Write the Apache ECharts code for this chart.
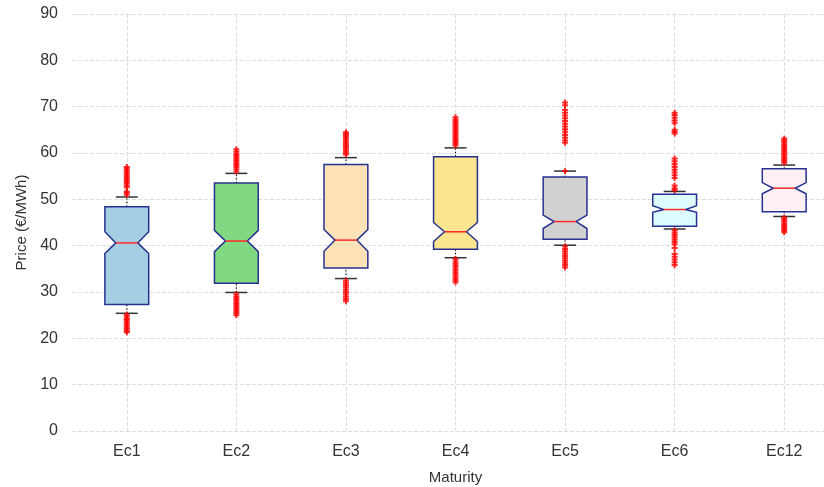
<!DOCTYPE html>
<html>
<head>
<meta charset="utf-8">
<script src="https://cdn.jsdelivr.net/npm/echarts@6/dist/echarts.min.js"></script>
<style>html,body{margin:0;padding:0;background:#fff;overflow:hidden;}#c{width:824px;height:487px;}</style>
</head>
<body>
<div id="c"></div>
<script>
// Categories
var categories = ['Ec1', 'Ec2', 'Ec3', 'Ec4', 'Ec5', 'Ec6', 'Ec12'];
// Box statistics
var whiskerLow  = [25.4, 29.9, 32.9, 37.4, 40.1, 43.6, 46.3];
var q1          = [27.3, 31.9, 35.2, 39.2, 41.4, 44.2, 47.3];
var notchLow    = [38.3, 38.7, 38.8, 40.9, 43.7, 47.2, 51.2];
var median      = [40.6, 41.0, 41.2, 43.0, 45.2, 47.8, 52.4];
var notchHigh   = [43.0, 43.3, 43.5, 45.0, 46.6, 48.6, 53.6];
var q3          = [48.4, 53.5, 57.5, 59.2, 54.8, 51.1, 56.6];
var whiskerHigh = [50.5, 55.6, 59.0, 61.1, 56.1, 51.7, 57.4];
var boxColors   = ['#a6cee3', '#80d880', '#fde2b8', '#fde48f', '#d1d1d1', '#dcfbfc', '#fdf0f5'];
// Outliers per category
var outEc1  = [51.0, 51.4, 51.7, 52.6, 53.0, 53.4, 53.8, 54.2, 54.6, 55.0, 55.4, 55.8, 56.2, 56.6, 57.0, 25.1, 24.7, 24.3, 24.0, 23.6, 23.2, 22.8, 22.4, 22.0, 21.6, 21.3];
var outEc2  = [56.0, 56.5, 57.0, 57.4, 57.8, 58.2, 58.6, 59.0, 59.4, 59.8, 60.3, 60.8, 29.5, 29.0, 28.6, 28.2, 27.8, 27.4, 27.0, 26.6, 26.2, 25.8, 25.4, 25.0];
var outEc3  = [59.7, 60.1, 60.5, 60.9, 61.3, 61.7, 62.1, 62.5, 62.9, 63.3, 63.7, 64.1, 64.5, 32.5, 32.0, 31.5, 31.0, 30.5, 30.0, 29.5, 29.0, 28.5, 28.0];
var outEc4  = [61.6, 62.0, 62.4, 62.8, 63.2, 63.6, 64.0, 64.4, 64.8, 65.2, 65.6, 66.0, 66.4, 66.8, 67.2, 67.7, 37.1, 36.6, 36.1, 35.6, 35.1, 34.6, 34.1, 33.6, 33.1, 32.6, 32.1];
var outEc5  = [70.9, 70.3, 69.3, 68.7, 68.1, 67.5, 66.9, 66.3, 65.7, 65.1, 64.5, 63.9, 63.3, 62.7, 62.2, 56.1, 39.8, 39.3, 38.8, 38.3, 37.8, 37.3, 36.8, 36.3, 35.8, 35.3];
var outEc6  = [68.7, 68.2, 67.6, 67.0, 66.4, 65.0, 64.6, 64.2, 58.8, 58.2, 57.6, 57.0, 56.4, 55.8, 55.2, 54.6, 53.0, 52.4, 52.0, 43.3, 42.8, 42.3, 41.8, 41.3, 40.8, 40.3, 39.5, 38.2, 37.6, 37.0, 36.4, 35.8];
var outEc12 = [57.9, 58.3, 58.7, 59.1, 59.5, 59.9, 60.3, 60.7, 61.1, 61.5, 61.9, 62.3, 62.7, 63.1, 46.0, 45.6, 45.2, 44.8, 44.4, 44.0, 43.6, 43.2, 42.9];
var outliers = [outEc1, outEc2, outEc3, outEc4, outEc5, outEc6, outEc12];
// Y ticks
var yMin = 0, yMax = 90, yStep = 10;

var boxData = categories.map(function (c, i) {
  return [i, whiskerLow[i], q1[i], notchLow[i], median[i], notchHigh[i], q3[i], whiskerHigh[i]];
});
var outData = [];
outliers.forEach(function (arr, i) { arr.forEach(function (v) { outData.push([i, v]); }); });

var FONT = 'Liberation Sans, Arial, sans-serif';
var EDGE = '#27318f';

function renderBox(params, api) {
  var idx = api.value(0);
  var band = api.size([1, 0])[0];
  var w = band * 0.4;
  var x = api.coord([idx, 0])[0];
  function Y(v) { return api.coord([idx, v])[1]; }
  var wl = Y(api.value(1)), b1 = Y(api.value(2)), nl = Y(api.value(3)),
      md = Y(api.value(4)), nh = Y(api.value(5)), b3 = Y(api.value(6)), wh = Y(api.value(7));
  var L = x - w / 2, R = x + w / 2, l = x - w / 4, r = x + w / 4;
  var pts = [[L, b1], [L, nl], [l, md], [L, nh], [L, b3], [R, b3], [R, nh], [r, md], [R, nl], [R, b1]];
  return {
    type: 'group',
    children: [
      { type: 'line', shape: { x1: x, y1: wl, x2: x, y2: b1 }, style: { stroke: '#000', lineWidth: 1, lineDash: [1.5, 2] } },
      { type: 'line', shape: { x1: x, y1: b3, x2: x, y2: wh }, style: { stroke: '#000', lineWidth: 1, lineDash: [1.5, 2] } },
      { type: 'line', shape: { x1: l, y1: wl, x2: r, y2: wl }, style: { stroke: '#333', lineWidth: 1.5 } },
      { type: 'line', shape: { x1: l, y1: wh, x2: r, y2: wh }, style: { stroke: '#333', lineWidth: 1.5 } },
      { type: 'polygon', shape: { points: pts }, style: { fill: boxColors[idx], stroke: EDGE, lineWidth: 1.5 } },
      { type: 'line', shape: { x1: l, y1: md, x2: r, y2: md }, style: { stroke: '#ff2a2a', lineWidth: 1.5 } }
    ]
  };
}

var chart = echarts.init(document.getElementById('c'), null, { renderer: 'canvas' });
chart.setOption({
  backgroundColor: '#ffffff',
  animation: false,
  grid: { left: 72, right: -15, top: 14, bottom: 56, containLabel: false, outerBoundsMode: 'none' },
  xAxis: {
    type: 'category',
    data: categories,
    boundaryGap: true,
    name: 'Maturity',
    nameLocation: 'middle',
    nameGap: 39,
    nameTextStyle: { fontFamily: FONT, fontSize: 15, color: '#333' },
    axisLine: { show: false },
    axisTick: { show: false },
    axisLabel: { fontFamily: FONT, fontSize: 16, color: '#333', margin: 13 },
    splitLine: { show: true, alignWithLabel: true, lineStyle: { color: '#dddddd', type: 'dashed', width: 1 } }
  },
  yAxis: {
    type: 'value',
    min: yMin, max: yMax, interval: yStep,
    name: 'Price (€/MWh)',
    nameLocation: 'middle',
    nameGap: 41,
    nameTextStyle: { fontFamily: FONT, fontSize: 15, color: '#333' },
    axisLine: { show: false },
    axisTick: { show: false },
    axisLabel: { fontFamily: FONT, fontSize: 16, color: '#333', margin: 14 },
    splitLine: { show: true, lineStyle: { color: '#dddddd', type: 'dashed', width: 1 } }
  },
  series: [
    {
      type: 'custom',
      renderItem: renderBox,
      encode: { x: 0, y: [1, 2, 3, 4, 5, 6, 7] },
      data: boxData,
      z: 2
    },
    {
      type: 'scatter',
      data: outData,
      symbol: 'path://M3.3,0H6.7V3.3H10V6.7H6.7V10H3.3V6.7H0V3.3H3.3Z',
      symbolSize: 6,
      itemStyle: { color: '#ff0000' },
      z: 3
    }
  ]
});
</script>
</body>
</html>
